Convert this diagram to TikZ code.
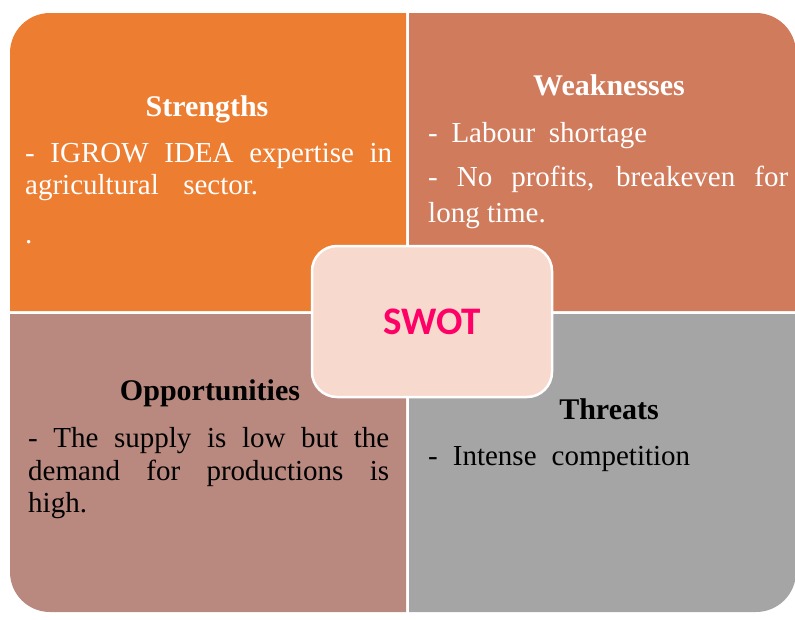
\documentclass[tikz,border=0pt]{standalone}
\usepackage{fontspec}
\setmainfont{Liberation Serif}
\newfontfamily\swotfont{Carlito}
\definecolor{cS}{HTML}{ED7D31}
\definecolor{cW}{HTML}{D17B5D}
\definecolor{cO}{HTML}{B9897F}
\definecolor{cT}{HTML}{A5A5A5}
\definecolor{cC}{HTML}{F8D9CE}
\definecolor{cSW}{HTML}{FF0066}
\begin{document}
\begin{tikzpicture}[x=1pt,y=-1pt,
  title/.style={anchor=base, inner sep=0pt, font=\fontsize{30}{34}\selectfont\bfseries},
  body/.style={anchor=base west, inner sep=0pt, font=\fontsize{29}{33}\selectfont}]
\useasboundingbox (0,0) rectangle (795,619);
% quadrants
\fill[cS] (10,311) -- (10,53) arc[start angle=180,end angle=270,radius=40] -- (406,13) -- (406,311) -- cycle;
\fill[cW] (409,13) -- (756,13) arc[start angle=270,end angle=360,radius=40] -- (796,311) -- (409,311) -- cycle;
\fill[cO] (10,314) -- (406,314) -- (406,612) -- (50,612) arc[start angle=90,end angle=180,radius=40] -- cycle;
\fill[cT] (409,314) -- (796,314) -- (796,572) arc[start angle=0,end angle=90,radius=40] -- (409,612) -- cycle;
% Strengths
\node[title,text=white] (st) at (207,116) {Strengths};
\node[body,text=white] (s1) at (25,162) {\makebox[367pt][s]{- IGROW IDEA expertise in}};
\node[body,text=white] (s2) at (25,194) {\makebox[233pt][s]{agricultural sector.}};
\node[body,text=white] (s3) at (25,243) {.};
% Weaknesses
\node[title,text=white] (wt) at (609,95) {Weaknesses};
\node[body,text=white] (w1) at (428,142) {\makebox[219pt][s]{- Labour shortage}};
\node[body,text=white] (w2) at (428,186) {\makebox[360pt][s]{- No profits, breakeven for}};
\node[body,text=white] (w3) at (428,222) {long time.};
% Opportunities
\node[title,text=black] (ot) at (210,400) {Opportunities};
\node[body,text=black] (o1) at (28,447) {\makebox[361pt][s]{- The supply is low but the}};
\node[body,text=black] (o2) at (28,480) {\makebox[361pt][s]{demand for productions is}};
\node[body,text=black] (o3) at (28,512) {high.};
% Threats
\node[title,text=black] (tt) at (609,419) {Threats};
\node[body,text=black] (t1) at (428,465) {\makebox[262pt][s]{- Intense competition}};
% center
\node[draw=white, line width=2.5pt, fill=cC, rounded corners=25pt, minimum width=240pt, minimum height=151pt, inner sep=0pt,
  font=\swotfont\bfseries\fontsize{39}{42}\selectfont, text=cSW] (swot) at (432,321.5) {SWOT};
\end{tikzpicture}
\end{document}
